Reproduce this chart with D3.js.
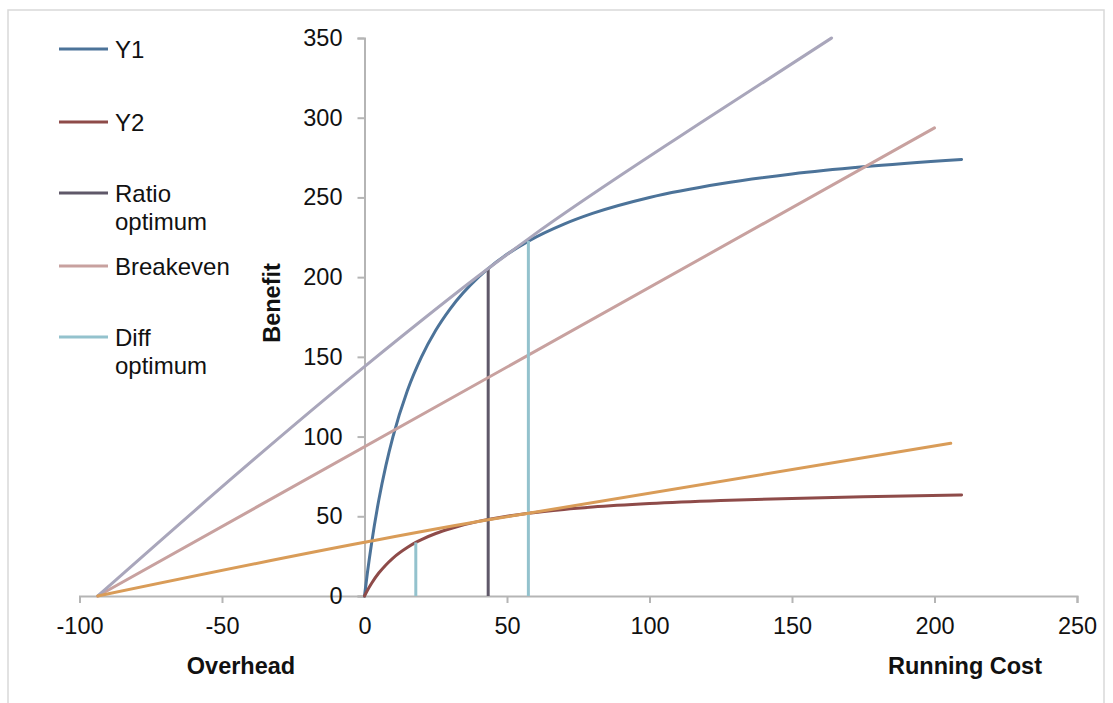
<!DOCTYPE html>
<html>
<head>
<meta charset="utf-8">
<script src="https://cdn.jsdelivr.net/npm/d3@7"></script>
<style>
  html, body { margin: 0; padding: 0; background: #fff; }
  svg { display: block; font-family: "Liberation Sans", Arial, sans-serif; }
</style>
</head>
<body>
<svg id="chart" width="1113" height="703"></svg>
<script>
// ---------- data ----------
const xTicks = [-100, -50, 0, 50, 100, 150, 200, 250];
const yTicks = [0, 50, 100, 150, 200, 250, 300, 350];

const y1X    = [0, 1, 2.5, 5, 7.5, 10, 15, 20, 25, 30, 40, 43.4, 50, 57.5, 70, 80, 100, 125, 150, 175, 209.5];
const y1Vals = [0, 14.3, 33.3, 60, 81.8, 100, 128.6, 150, 166.7, 180, 200, 205.4, 214.3, 222.6, 233.3, 240, 250, 258.6, 264.7, 269.2, 273.8];

const y2X    = [0, 1, 2.5, 5, 7.5, 10, 15, 18, 20, 25, 30, 40, 43.4, 50, 57.5, 70, 80, 100, 125, 150, 175, 209.5];
const y2Vals = [0, 3.45, 8.0, 14.4, 19.5, 23.8, 30.4, 33.6, 35.4, 39.2, 42.2, 46.8, 48.0, 50.0, 51.9, 54.3, 55.8, 58.0, 59.9, 61.2, 62.2, 63.3];

const ratioOptX = [43.4];
const ratioOptTop = [205.4];

const diffOptX = [18, 57.5];
const diffOptTop = [33.6, 222.6];

const breakevenX = [-93.6, 200];
const breakevenVals = [0, 293.6];

const tangentX = [-93.6, 0, 43.4, 57.5, 117.7, 163.9];
const tangentVals = [0, 143.9, 205.4, 224, 296.5, 350];

const orangeX = [-93.6, 0, 43.4, 57.5, 205.7];
const orangeVals = [0, 33.7, 47.8, 51.9, 95.8];

const legendLabels = [["Y1"], ["Y2"], ["Ratio", "optimum"], ["Breakeven"], ["Diff", "optimum"]];

// ---------- styles ----------
const C = {
  y1: "#4c7399", y2: "#8e4b49", ratio: "#5f5869", breakeven: "#c8a19f",
  diff: "#93c2cd", tangent: "#a9a6bb", orange: "#d99c58", axis: "#b5b5b5", border: "#d9d9d9"
};
const legendColors = [C.y1, C.y2, C.ratio, C.breakeven, C.diff];
const legendY = [49, 122, 193, 266, 337];
const legendLineGap = [0, 0, 28, 0, 28];
const FONT = '"Liberation Sans", Arial, sans-serif';
const fmt = d => String(d);

const svg = d3.select("#chart");

// border
svg.append("rect").attr("x", 8).attr("y", 10).attr("width", 1096).attr("height", 710)
  .attr("fill", "none").attr("stroke", C.border).attr("stroke-width", 1.5);

const x = d3.scaleLinear().domain([-100, 250]).range([79.5, 1077]);
const y = d3.scaleLinear().domain([0, 350]).range([596, 38]);

// x axis
const xAxis = d3.axisBottom(x).tickValues(xTicks).tickSize(7).tickPadding(14).tickFormat(fmt);
const gx = svg.append("g").attr("transform", `translate(0,${y(0)})`).call(xAxis);
gx.selectAll(".tick").filter(d => d === 0).select("line").remove();
gx.select(".domain").attr("stroke", C.axis).attr("stroke-width", 2);
gx.selectAll(".tick line").attr("stroke", C.axis).attr("stroke-width", 2);
gx.selectAll("text").attr("fill", "#111").style("font-size", "23.5px").style("font-family", FONT)
  .attr("y", 21).attr("dy", "0.71em");

// y axis at x=0
const yAxis = d3.axisLeft(y).tickValues(yTicks).tickSize(7).tickPadding(15).tickFormat(fmt);
const gy = svg.append("g").attr("transform", `translate(${x(0)},0)`).call(yAxis);
gy.select(".domain").attr("stroke", C.axis).attr("stroke-width", 2);
gy.selectAll(".tick line").attr("stroke", C.axis).attr("stroke-width", 2);
gy.selectAll("text").attr("fill", "#111").style("font-size", "23.5px").style("font-family", FONT);

// axis titles
svg.append("text").attr("transform", `translate(271.5,303) rotate(-90)`).attr("text-anchor", "middle")
  .attr("dy", "0.35em").style("font-size", "23.5px").style("font-weight", "bold").attr("fill", "#111").text("Benefit");
svg.append("text").attr("x", 241).attr("y", 666).attr("dy", "0.35em").attr("text-anchor", "middle")
  .style("font-size", "23.5px").style("font-weight", "bold").attr("fill", "#111").text("Overhead");
svg.append("text").attr("x", 965).attr("y", 666).attr("dy", "0.35em").attr("text-anchor", "middle")
  .style("font-size", "23.5px").style("font-weight", "bold").attr("fill", "#111").text("Running Cost");

// lines
const smooth = d3.line().x(d => x(d[0])).y(d => y(d[1])).curve(d3.curveMonotoneX);
const straight = d3.line().x(d => x(d[0])).y(d => y(d[1]));
const zip = (a, b) => a.map((v, i) => [v, b[i]]);
const plot = svg.append("g").attr("fill", "none").attr("stroke-width", 3).attr("stroke-linecap", "round");

plot.append("path").attr("d", smooth(zip(y1X, y1Vals))).attr("stroke", C.y1);
plot.append("path").attr("d", smooth(zip(y2X, y2Vals))).attr("stroke", C.y2);
ratioOptX.forEach((v, i) => {
  plot.append("path").attr("d", straight([[v, 0], [v, ratioOptTop[i]]])).attr("stroke", C.ratio).attr("stroke-linecap", "butt");
});
plot.append("path").attr("d", straight(zip(breakevenX, breakevenVals))).attr("stroke", C.breakeven);
diffOptX.forEach((v, i) => {
  plot.append("path").attr("d", straight([[v, 0], [v, diffOptTop[i]]])).attr("stroke", C.diff).attr("stroke-linecap", "butt");
});
plot.append("path").attr("d", smooth(zip(tangentX, tangentVals))).attr("stroke", C.tangent);
plot.append("path").attr("d", smooth(zip(orangeX, orangeVals))).attr("stroke", C.orange);

// legend
const lg = svg.append("g");
legendLabels.forEach((lines, i) => {
  const cy = legendY[i];
  lg.append("line").attr("x1", 59).attr("x2", 108).attr("y1", cy).attr("y2", cy)
    .attr("stroke", legendColors[i]).attr("stroke-width", 3);
  lines.forEach((t, j) => {
    lg.append("text").attr("x", 115).attr("y", cy + j * legendLineGap[i] + 8.5)
      .style("font-size", "24px").style("font-family", FONT).attr("fill", "#111").text(t);
  });
});
</script>
</body>
</html>
